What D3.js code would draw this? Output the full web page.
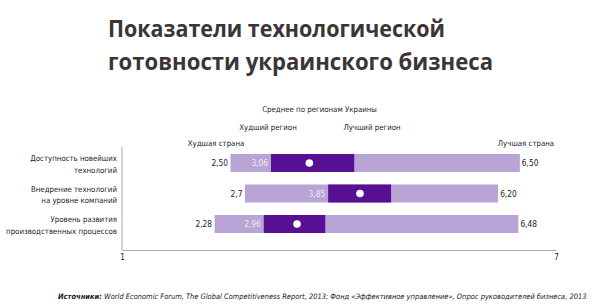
<!DOCTYPE html>
<html><head><meta charset="utf-8">
<script src="https://cdnjs.cloudflare.com/ajax/libs/d3/7.8.5/d3.min.js"></script>
<style>
body{margin:0;background:#fff;}
svg{display:block;}
.n{font-family:"Liberation Sans Narrow","Arial Narrow","DejaVu Sans Condensed",sans-serif;}
</style></head>
<body><svg id="c" width="600" height="307"></svg>
<script>
const categories = [["Доступность новейших","технологий"],["Внедрение технологий","на уровне компаний"],["Уровень развития","производственных процессов"]];
const worstCountry = [2.50, 2.7, 2.28];
const worstRegion = [3.06, 3.85, 2.96];
const regionAvg = [3.59, 4.29, 3.42];
const bestRegion = [4.21, 4.72, 3.81];
const bestCountry = [6.50, 6.20, 6.48];
const worstCountryLabels = ["2,50","2,7","2,28"];
const worstRegionLabels = ["3,06","3,85","2,96"];
const bestCountryLabels = ["6,50","6,20","6,48"];
const axisTicks = [1, 7];
const titleLines = ["Показатели технологической","готовности украинского бизнеса"];
const headers = ["Среднее по регионам Украины","Худший регион","Лучший регион","Худшая страна","Лучшая страна"];
const sourceLead = "Источники:";
const sourceText = "World Economic Forum, The Global Competitiveness Report, 2013; Фонд «Эффективное управление», Опрос руководителей бизнеса, 2013";

const svg = d3.select("#c");
const x = d3.scaleLinear().domain([1,7]).range([122,556]);
const ids = categories.map((d,i)=>i);
const y = d3.scaleBand().domain(ids).range([154,233]).paddingInner(0.41).paddingOuter(0);
const bw = y.bandwidth();
const light = "#b8a4d5", dark = "#570f94";

// title
svg.selectAll("text.title").data(titleLines).join("text")
  .attr("x",108).attr("y",(d,i)=>37+i*33)
  .attr("textLength",(d,i)=>i===0?337:385).attr("lengthAdjust","spacingAndGlyphs")
  .style("font-family","'Open Sans',sans-serif").style("font-weight",700)
  .style("font-size","24px").style("fill","#3b3536").text(d=>d);

// headers
const hdr = [[319.5,111.5],[268,130],[372,130],[216,145.5],[526,145.5]];
svg.selectAll("text.hdr").data(headers).join("text").attr("class","n")
  .attr("x",(d,i)=>hdr[i][0]).attr("y",(d,i)=>hdr[i][1]).attr("text-anchor","middle")
  .style("font-size","7.8px").style("fill","#222").text(d=>d);

// axis lines
svg.append("line").attr("x1",x(1)).attr("x2",x(1)).attr("y1",147).attr("y2",250)
  .attr("stroke","#a8a8a8").attr("stroke-width",1);
const ax = svg.append("g").attr("transform","translate(0,250)")
  .call(d3.axisBottom(x).tickValues(axisTicks).tickSize(0).tickPadding(4).tickFormat(d3.format("d")));
ax.select(".domain").attr("stroke","#a8a8a8");
ax.selectAll("text").attr("class","n").style("font-size","8px").style("fill","#222").style("font-family",null);

// bars
const g = svg.append("g");
g.selectAll("rect.l").data(ids).join("rect")
  .attr("x",i=>x(worstCountry[i])).attr("width",i=>x(bestCountry[i])-x(worstCountry[i]))
  .attr("y",i=>y(i)).attr("height",bw).attr("fill",light);
g.selectAll("rect.d").data(ids).join("rect")
  .attr("x",i=>x(worstRegion[i])).attr("width",i=>x(bestRegion[i])-x(worstRegion[i]))
  .attr("y",i=>y(i)).attr("height",bw).attr("fill",dark);
g.selectAll("circle").data(ids).join("circle")
  .attr("cx",i=>x(regionAvg[i])).attr("cy",i=>y(i)+bw/2).attr("r",3.8).attr("fill","#fff");

// value labels
g.selectAll("text.wc").data(ids).join("text").attr("class","n")
  .attr("x",i=>x(worstCountry[i])-2.5).attr("y",i=>y(i)+bw/2+3).attr("text-anchor","end")
  .style("font-size","8.3px").style("fill","#222").text(i=>worstCountryLabels[i]);
g.selectAll("text.wr").data(ids).join("text").attr("class","n")
  .attr("x",i=>x(worstRegion[i])-3).attr("y",i=>y(i)+bw/2+3).attr("text-anchor","end")
  .style("font-size","8.3px").style("fill","#efe8f6").text(i=>worstRegionLabels[i]);
g.selectAll("text.bc").data(ids).join("text").attr("class","n")
  .attr("x",i=>x(bestCountry[i])+2).attr("y",i=>y(i)+bw/2+3)
  .style("font-size","8.3px").style("fill","#222").text(i=>bestCountryLabels[i]);

// category labels
categories.forEach((lines,i)=>{
  const t = g.append("text").attr("class","n").attr("text-anchor","end")
    .style("font-size","7.8px").style("fill","#222");
  lines.forEach((s,j)=>t.append("tspan").attr("x",117).attr("y",y(i)+bw/2-1.7+j*11.3).text(s));
});

// source: fit between x=58 and x=588
let fs = 8;
const lead = svg.append("text").attr("class","n").attr("y",299)
  .style("font-style","italic").style("font-weight",700).style("fill","#222").text(sourceLead);
const rest = svg.append("text").attr("class","n").attr("y",299)
  .style("font-style","italic").style("fill","#222").text(sourceText);
function lay(){
  lead.style("font-size",fs+"px"); rest.style("font-size",fs+"px");
  const w1 = lead.node().getComputedTextLength(), w2 = rest.node().getComputedTextLength();
  return [w1,w2];
}
let [w1,w2] = lay();
fs = fs*530/(w1+w2+fs*0.3);
[w1,w2] = lay();
lead.attr("x",58);
rest.attr("x",58+w1+fs*0.3);
</script></body></html>
